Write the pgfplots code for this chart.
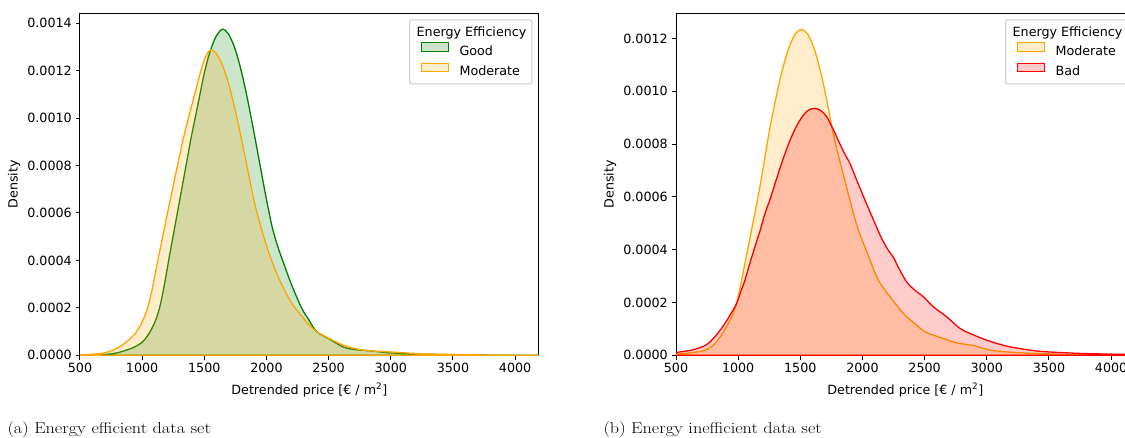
\documentclass[border=0pt]{standalone}
\usepackage{fontspec}
\setsansfont{DejaVu Sans}
\usepackage{pgfplots}
\pgfplotsset{compat=1.18}
\usepackage{pgfplotstable}

\definecolor{mplgreen}{HTML}{008000}
\definecolor{mplorange}{HTML}{FFA500}
\definecolor{mplred}{HTML}{FF0000}
\definecolor{legframe}{gray}{0.8}

% KDE curves (price, density)
\pgfplotstableread{
x d
500 0.0000003
650 0.000002
768 0.0000072
850 0.000018
929 0.0000326
1000 0.000055
1040 0.00008
1075 0.00011
1110 0.00015
1140 0.0002
1165 0.00026
1190 0.00033
1220 0.00042
1255 0.00052
1290 0.00062
1325 0.00072
1360 0.00082
1395 0.00092
1430 0.00101
1465 0.0011
1500 0.00119
1540 0.00127
1590 0.00134
1644 0.001375
1694 0.001355
1744 0.001297
1794 0.001206
1844 0.001089
1894 0.000955
1944 0.000814
1994 0.000674
2044 0.000545
2090 0.00046
2130 0.0004
2200 0.0003
2282 0.0002
2340 0.00015
2403 0.0001
2500 0.00007
2617 0.000035
2700 0.000025
2805 0.00002
2900 0.000015
3000 0.00001
3260 0.000005
3500 0.000002
3800 0.0000005
4300 0
}\goodtab

\pgfplotstableread{
x d
500 0.000001
661 0.0000072
730 0.000015
808 0.0000326
870 0.000055
942 0.00009
985 0.000125
1020 0.000165
1050 0.00021
1075 0.000265
1100 0.00033
1130 0.00041
1165 0.0005
1200 0.00059
1240 0.00069
1280 0.00079
1325 0.0009
1372 0.001
1422 0.0011
1473 0.0012
1512 0.00126
1550 0.001287
1590 0.001276
1630 0.001242
1670 0.001188
1710 0.001117
1750 0.00103
1790 0.000935
1830 0.000833
1870 0.000728
1910 0.00063
1950 0.00055
1990 0.00048
2030 0.000415
2095 0.00033
2160 0.00026
2215 0.00021
2269 0.000175
2340 0.00013
2403 0.0001
2500 0.000072
2617 0.000043
2700 0.00003
2805 0.00002
3000 0.000014
3260 0.000006
3500 0.000004
3800 0.000001
4300 0
}\modAtab

\pgfplotstableread{
x d
400 0.000001
519 0.0000045
680 0.0000133
760 0.000025
814 0.000045
870 0.00008
921 0.000121
960 0.00016
988 0.000197
1028 0.000285
1055 0.00035
1081 0.000411
1110 0.00048
1135 0.00054
1160 0.0006
1185 0.000665
1210 0.000735
1235 0.000805
1260 0.000872
1310 0.000988
1360 0.001089
1410 0.001167
1460 0.001217
1510 0.001234
1560 0.001216
1610 0.001163
1660 0.00108
1710 0.000973
1760 0.00085
1810 0.00075
1859 0.00066
1926 0.00054
1970 0.00047
2020 0.00041
2070 0.00035
2127 0.000285
2221 0.000222
2328 0.000159
2435 0.000114
2500 0.00009
2569 0.0000765
2757 0.0000473
2890 0.0000375
3025 0.0000197
3212 0.000011
3480 0.0000057
3748 0.0000015
4300 0
}\modBtab

\pgfplotstableread{
x d
400 0.000006
505 0.000011
626 0.0000197
700 0.00003
760 0.000045
830 0.00008
894 0.000121
945 0.00016
988 0.000197
1020 0.00024
1055 0.000285
1095 0.00035
1135 0.000411
1175 0.00047
1216 0.000537
1262 0.000598
1312 0.000673
1362 0.000744
1412 0.000808
1462 0.000861
1512 0.000901
1562 0.000927
1612 0.000935
1660 0.000928
1710 0.000905
1760 0.00086
1819 0.0008
1860 0.00076
1899 0.000727
1953 0.000664
2020 0.000588
2100 0.0005
2154 0.000443
2207 0.000398
2247 0.000373
2287 0.000335
2355 0.000278
2421 0.000247
2489 0.000222
2569 0.000184
2677 0.000146
2783 0.000102
2864 0.000083
2998 0.0000576
3159 0.0000349
3346 0.0000197
3480 0.0000133
3748 0.0000072
4110 0.0000034
4300 0.000002
}\badtab

\pgfplotsset{
  kde/.style={
    scale only axis, width=458.7pt, height=342pt,
    xmin=500, xmax=4190, ymin=0,
    line width=1pt,
    tick align=outside, xtick pos=bottom, ytick pos=left,
    major tick length=4.4pt,
    major tick style={line width=1pt, black},
    xtick={500,1000,1500,2000,2500,3000,3500,4000},
    font=\sffamily\fontsize{12.7}{15}\selectfont,
    ticklabel style={font=\sffamily\fontsize{12.7}{15}\selectfont,
      /pgf/number format/assume math mode=true},
    xticklabel style={/pgf/number format/1000 sep={}},
    yticklabel style={/pgf/number format/.cd, fixed, fixed zerofill, precision=4},
    scaled y ticks=false,
    xlabel={Detrended price [€ / m\textsuperscript{2}]},
    xlabel style={yshift=-3pt},
    ylabel={Density},
    legend cell align=left,
    legend style={at={(1,1)}, anchor=north east, xshift=-6.4pt, yshift=-6pt,
      draw=legframe, line width=1pt, rounded corners=2.5pt,
      fill=white, fill opacity=0.8, draw opacity=1, text opacity=1,
      inner xsep=11.8pt, inner ysep=6.6pt, row sep=6.1pt, column sep=10.7pt,
      font=\sffamily\fontsize{12.7}{15}\selectfont,
      nodes={inner sep=0pt, text height=0.8em, text depth=0.15em}},
    legend image code/.code={\draw[#1, line width=1pt, sharp corners] (0pt,0.7pt) rectangle (26.6pt,9.4pt);},
    curve/.style={draw=##1, fill=##1, fill opacity=0.2, line width=1.3pt, smooth, tension=0.5},
  }
}

\newcommand{\legtitle}{\makebox[0pt][l]{\hspace*{-43.4pt}\raisebox{-2.5pt}{Energy Efficiency}}}

\begin{document}
\begin{tikzpicture}
\begin{axis}[kde, at={(80pt,82.7pt)}, anchor=south west, ymax=0.001442,
  ytick={0,0.0002,0.0004,0.0006,0.0008,0.0010,0.0012,0.0014}]
  \addlegendimage{empty legend}
  \addlegendentry{\legtitle}
  \addplot[curve=mplgreen] table {\goodtab} \closedcycle;
  \addlegendentry{Good}
  \addplot[curve=mplorange] table {\modAtab} \closedcycle;
  \addlegendentry{Moderate}
\end{axis}

\begin{axis}[kde, at={(676pt,82.7pt)}, anchor=south west, ymax=0.001295,
  ytick={0,0.0002,0.0004,0.0006,0.0008,0.0010,0.0012}]
  \addlegendimage{empty legend}
  \addlegendentry{\legtitle}
  \addplot[curve=mplorange] table {\modBtab} \closedcycle;
  \addlegendentry{Moderate}
  \addplot[curve=mplred] table {\badtab} \closedcycle;
  \addlegendentry{Bad}
\end{axis}

\node[anchor=base west, inner sep=0pt, font=\rmfamily\fontsize{15.7}{18}\selectfont] at (7.3pt,4pt)
  {\scalebox{1.16}[1]{(a) Energy efficient data set}};
\node[anchor=base west, inner sep=0pt, font=\rmfamily\fontsize{15.7}{18}\selectfont] at (603.3pt,4pt)
  {\scalebox{1.16}[1]{(b) Energy inefficient data set}};

\pgfresetboundingbox
\useasboundingbox (0,0) rectangle (1125pt,438pt);
\end{tikzpicture}
\end{document}
